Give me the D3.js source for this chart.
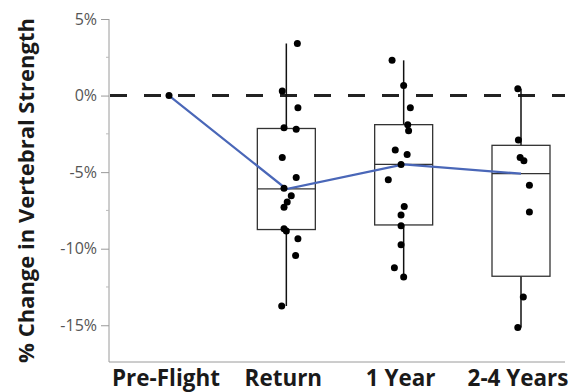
<!DOCTYPE html>
<html>
<head>
<meta charset="utf-8">
<script src="https://cdn.jsdelivr.net/npm/d3@7"></script>
<style>
  body { margin: 0; background: #fff; }
  text { font-family: "Open Sans", sans-serif; }
</style>
</head>
<body>
<div id="container"></div>
<script>
/* CONSTANTS AND GLOBALS */
const width = 576,
  height = 392,
  margin = { top: 19, bottom: 30, left: 109, right: 11 },
  radius = 3.5,
  boxHalf = 29;

/* DATA */
const groups = ["Pre-Flight", "Return", "1 Year", "2-4 Years"];

// individual % changes, one list per group
const preFlight = [0];
const returnPts = [3.4, 0.3, -0.8, -2.1, -2.2, -4.05, -5.35, -6.05, -6.55, -6.95, -7.3, -8.7, -8.85, -9.35, -10.45, -13.75];
const oneYear = [2.3, 0.65, -0.8, -1.9, -2.3, -3.55, -3.85, -4.5, -5.5, -7.25, -7.8, -8.5, -9.75, -11.25, -11.85];
const laterPts = [0.45, -2.9, -4.05, -4.25, -5.85, -7.6, -13.15, -15.15];

// horizontal jitter of each dot, as a fraction of the half box width
const preFlightJit = [0];
const returnJit = [0.38, -0.14, 0.4, -0.08, 0.34, -0.14, 0.34, -0.08, 0.17, 0.03, -0.08, -0.08, 0, 0.4, 0.32, -0.16];
const oneYearJit = [-0.4, 0, 0.23, 0.14, 0.17, -0.29, 0.12, -0.09, -0.53, 0.02, -0.09, -0.09, -0.09, -0.32, 0];
const laterJit = [-0.11, -0.09, -0.03, 0.1, 0.29, 0.29, 0.08, -0.11];

// box plot stats (no box for Pre-Flight)
const boxGroups = ["Return", "1 Year", "2-4 Years"];
const whiskerHigh = [3.4, 2.3, 0.45];
const q3 = [-2.15, -1.9, -3.25];
const median = [-6.1, -4.5, -5.1];
const q1 = [-8.75, -8.45, -11.8];
const whiskerLow = [-13.75, -11.85, -15.15];

// blue connecting line
const meanLine = [0, -6.1, -4.5, -5.1];

const yTicks = [5, 0, -5, -10, -15];
const yMinor = [2.5, -2.5, -7.5, -12.5];

/* SCALES */
const xScale = d3.scalePoint()
  .domain(groups)
  .range([169, 521]);

const yScale = d3.scaleLinear()
  .domain([-17.4, 5])
  .range([height - margin.bottom, margin.top]);

const jitScale = d3.scaleLinear()
  .domain([-1, 1])
  .range([-boxHalf, boxHalf]);

/* HTML ELEMENTS */
const svg = d3.select("#container")
  .append("svg")
  .attr("width", width)
  .attr("height", height);

// axes
const yAxis = d3.axisLeft(yScale)
  .tickValues(yTicks)
  .tickFormat(d => d + "%")
  .tickSize(8)
  .tickPadding(4);

const yG = svg.append("g")
  .attr("transform", `translate(${margin.left},0)`)
  .call(yAxis);
yG.select(".domain").attr("stroke", "#9a9a9a").attr("d", `M0,${margin.top}V${height - margin.bottom}`);
yG.selectAll(".tick line").attr("stroke", "#9a9a9a");
yG.selectAll(".tick text")
  .attr("fill", "#555")
  .style("font-size", "16px");

svg.append("g")
  .selectAll("line")
  .data(yMinor)
  .join("line")
  .attr("x1", margin.left - 3)
  .attr("x2", margin.left)
  .attr("y1", d => yScale(d))
  .attr("y2", d => yScale(d))
  .attr("stroke", "#bbb");

// bottom axis line
svg.append("line")
  .attr("x1", margin.left)
  .attr("x2", 565)
  .attr("y1", yScale(-17.4))
  .attr("y2", yScale(-17.4))
  .attr("stroke", "#9a9a9a");

// x labels
const xLab = svg.append("g")
  .selectAll("text")
  .data(groups)
  .join("text")
  .attr("x", d => xScale(d) - 3)
  .attr("y", 386)
  .attr("text-anchor", "middle")
  .attr("fill", "#1a1a1a")
  .style("font-weight", "bold")
  .style("font-size", "17px")
  .text(d => d);
// fit label size to the reference ("Pre-Flight" is ~108px wide)
const preW = xLab.filter(d => d === "Pre-Flight").node().getComputedTextLength();
xLab.style("font-size", (17 * 108 / preW) + "px");

// y title
const yTitle = svg.append("text")
  .attr("transform", `translate(34,${(18 + 363) / 2}) rotate(-90)`)
  .attr("text-anchor", "middle")
  .attr("fill", "#1a1a1a")
  .style("font-weight", "bold")
  .style("font-size", "17px")
  .text("% Change in Vertebral Strength");
const titleW = yTitle.node().getComputedTextLength();
yTitle.style("font-size", (17 * 345 / titleW) + "px");

// zero reference line
svg.append("line")
  .attr("x1", margin.left + 1)
  .attr("x2", 565)
  .attr("y1", yScale(0))
  .attr("y2", yScale(0))
  .attr("stroke", "#222")
  .attr("stroke-width", 3)
  .attr("stroke-dasharray", "17,17");

// boxes
const boxes = boxGroups.map((g, i) => ({
  group: g, hi: whiskerHigh[i], q3: q3[i], med: median[i], q1: q1[i], lo: whiskerLow[i]
}));

const box = svg.append("g")
  .selectAll("g")
  .data(boxes)
  .join("g")
  .attr("transform", d => `translate(${xScale(d.group)},0)`);

box.append("line")
  .attr("y1", d => yScale(d.hi))
  .attr("y2", d => yScale(d.lo))
  .attr("stroke", "#111")
  .attr("stroke-width", 1.5);

box.append("rect")
  .attr("x", -boxHalf)
  .attr("width", boxHalf * 2)
  .attr("y", d => yScale(d.q3))
  .attr("height", d => yScale(d.q1) - yScale(d.q3))
  .attr("fill", "#fff")
  .attr("stroke", "#333")
  .attr("stroke-width", 1.3);

box.append("line")
  .attr("x1", -boxHalf)
  .attr("x2", boxHalf)
  .attr("y1", d => yScale(d.med))
  .attr("y2", d => yScale(d.med))
  .attr("stroke", "#333")
  .attr("stroke-width", 1.3);

// blue line
const line = d3.line()
  .x((d, i) => xScale(groups[i]))
  .y(d => yScale(d));

svg.append("path")
  .datum(meanLine)
  .attr("d", line)
  .attr("fill", "none")
  .attr("stroke", "#4a67b8")
  .attr("stroke-width", 2.2);

// dots
const allVals = [preFlight, returnPts, oneYear, laterPts];
const allJit = [preFlightJit, returnJit, oneYearJit, laterJit];
const dots = [];
groups.forEach((g, i) => {
  allVals[i].forEach((v, j) => dots.push({ group: g, value: v, jit: allJit[i][j] }));
});

svg.append("g")
  .selectAll("circle")
  .data(dots)
  .join("circle")
  .attr("cx", d => xScale(d.group) + jitScale(d.jit))
  .attr("cy", d => yScale(d.value))
  .attr("r", radius)
  .attr("fill", "#000");
</script>
</body>
</html>
